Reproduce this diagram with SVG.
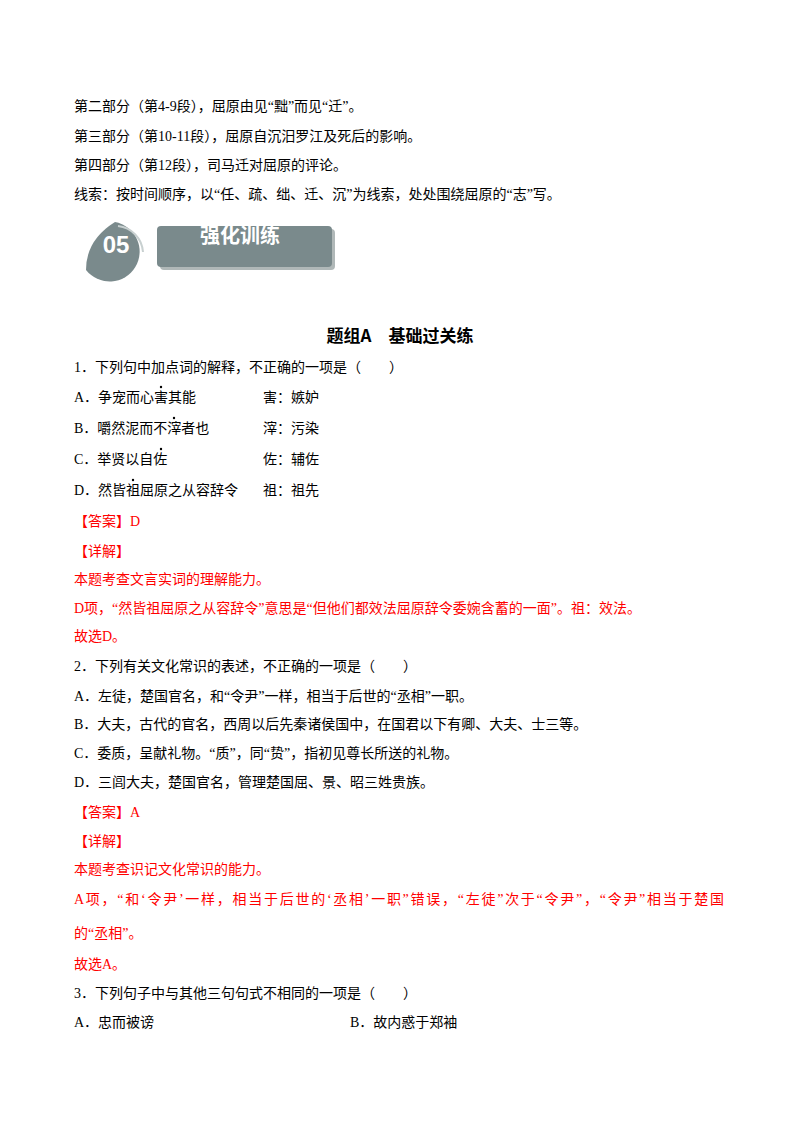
<svg xmlns="http://www.w3.org/2000/svg" width="800" height="1132" viewBox="0 0 800 1132">
<style>
text{font-family:"Liberation Serif","Noto Sans CJK SC",serif;font-size:14px;fill:#000}
.r{fill:#ff0000}
.h{font-family:"Noto Sans CJK SC",sans-serif;font-weight:bold;font-size:17px}
</style>
<rect width="800" height="1132" fill="#fff"/>
<text x="74" y="111">第二部分（第4-9段），屈原由见“黜”而见“迁”。</text>
<text x="74" y="141">第三部分（第10-11段），屈原自沉汨罗江及死后的影响。</text>
<text x="74" y="170">第四部分（第12段），司马迁对屈原的评论。</text>
<text x="74" y="199">线索：按时间顺序，以“任、疏、绌、迁、沉”为线索，处处围绕屈原的“志”写。</text>
<g id="banner">
<path d="M115 222 A30 30 0 1 1 86 270 Q86 240 115 222 Z" fill="#7a8a8c"/>
<path d="M118 226 A28 28 0 0 1 143 252" fill="none" stroke="#c8d0d0" stroke-width="2"/>
<text x="116" y="253" style="font-family:'Liberation Sans',sans-serif;font-weight:bold;font-size:24px;fill:#fff" text-anchor="middle">05</text>
<rect x="160" y="229" width="175" height="41" rx="4" fill="#b0b8b8"/>
<rect x="157" y="226" width="175" height="41" rx="4" fill="#7a8a8c"/>
<text x="240" y="243" text-anchor="middle" style="font-family:'Noto Sans CJK SC',sans-serif;font-weight:bold;font-size:20px;fill:#fff">强化训练</text>
</g>
<text x="400" y="342" class="h" text-anchor="middle">题组A　基础过关练</text>
<text x="74" y="372">1．下列句中加点词的解释，不正确的一项是（　　）</text>
<text x="74" y="402">A．争宠而心害其能</text><text x="263" y="402">害：嫉妒</text>
<text x="74" y="433">B．嚼然泥而不滓者也</text><text x="263" y="433">滓：污染</text>
<text x="74" y="464">C．举贤以自佐</text><text x="263" y="464">佐：辅佐</text>
<text x="74" y="495">D．然皆祖屈原之从容辞令</text><text x="263" y="495">祖：祖先</text>
<g fill="#000"><circle cx="161" cy="387" r="1.2"/><circle cx="174" cy="418" r="1.2"/><circle cx="161" cy="449" r="1.2"/><circle cx="133" cy="480" r="1.2"/></g>
<text x="74" y="526" class="r">【答案】D</text>
<text x="74" y="556" class="r">【详解】</text>
<text x="74" y="584" class="r">本题考查文言实词的理解能力。</text>
<text x="74" y="613" class="r">D项，“然皆祖屈原之从容辞令”意思是“但他们都效法屈原辞令委婉含蓄的一面”。祖：效法。</text>
<text x="74" y="641" class="r">故选D。</text>
<text x="74" y="671">2．下列有关文化常识的表述，不正确的一项是（　　）</text>
<text x="74" y="701">A．左徒，楚国官名，和“令尹”一样，相当于后世的“丞相”一职。</text>
<text x="74" y="729">B．大夫，古代的官名，西周以后先秦诸侯国中，在国君以下有卿、大夫、士三等。</text>
<text x="74" y="758">C．委质，呈献礼物。“质”，同“贽”，指初见尊长所送的礼物。</text>
<text x="74" y="787">D．三闾大夫，楚国官名，管理楚国屈、景、昭三姓贵族。</text>
<text x="74" y="817" class="r">【答案】A</text>
<text x="74" y="846" class="r">【详解】</text>
<text x="74" y="874" class="r">本题考查识记文化常识的能力。</text>
<text x="74" y="904" class="r" textLength="650">A项，“和‘令尹’一样，相当于后世的‘丞相’一职”错误，“左徒”次于“令尹”，“令尹”相当于楚国</text>
<text x="74" y="938" class="r">的“丞相”。</text>
<text x="74" y="969" class="r">故选A。</text>
<text x="74" y="998">3．下列句子中与其他三句句式不相同的一项是（　　）</text>
<text x="74" y="1027">A．忠而被谤</text><text x="350" y="1027">B．故内惑于郑袖</text>
</svg>
